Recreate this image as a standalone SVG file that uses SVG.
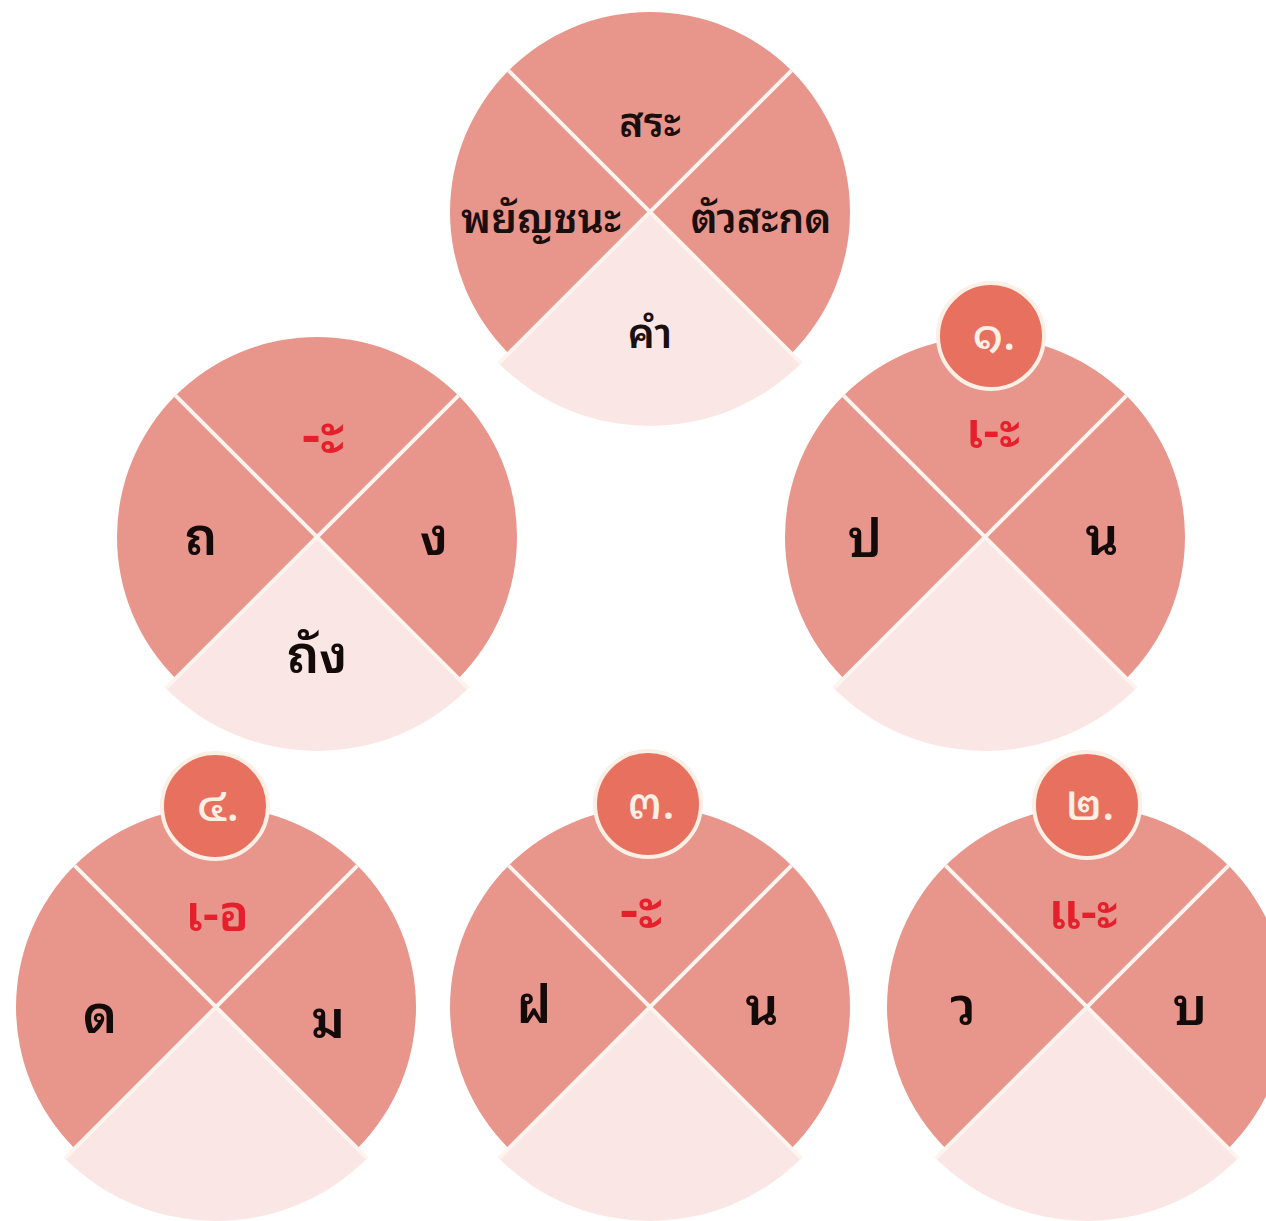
<svg xmlns="http://www.w3.org/2000/svg" xmlns:xlink="http://www.w3.org/1999/xlink" width="1266" height="1221" viewBox="0 0 1266 1221">
<style>
.q{fill:#E8968B}
.b{fill:#FAE7E5}
.sep{stroke:#FDF3EF;stroke-width:4;fill:none}
.badge{fill:#E8705E;stroke:#FBEFE6;stroke-width:4}
text{font-family:"Noto Sans Thai Looped","Noto Serif Thai","Loma","Garuda","Tlwg Typo","Noto Sans Thai","Noto Sans","DejaVu Sans",sans-serif;text-anchor:middle;font-weight:600}
.t{fill:#1A0E0E;font-size:41px}
.L{fill:#140A0A;font-size:52px}
.r{fill:#E5202C;font-size:50px}
.r2{fill:#E5202C;font-size:58px}
.n{fill:#FBEFE6;font-size:46px;font-weight:500}
</style>
<defs>
<g id="wheel">
<path class="q" d="M0,0 L-141.42,-141.42 A200,200 0 0,1 141.42,-141.42 Z"/>
<path class="q" d="M0,0 L141.42,-141.42 A200,200 0 0,1 141.42,141.42 Z"/>
<path class="q" d="M0,0 L-141.42,141.42 A200,200 0 0,1 -141.42,-141.42 Z"/>
<path class="b" d="M0,0 L151.3,151.3 A214,214 0 0,1 -151.3,151.3 Z"/>
<path class="sep" d="M-151.3,151.3 L141.42,-141.42 M151.3,151.3 L-141.42,-141.42"/>
</g>
</defs>
<rect width="1266" height="1221" fill="#FFFFFF"/>

<g id="node-top">
<use xlink:href="#wheel" x="650" y="212"/>
<text class="t" x="650" y="137">สระ</text>
<text class="t" x="541" y="233">พยัญชนะ</text>
<text class="t" x="761" y="233">ตัวสะกด</text>
<text class="t" x="650" y="348">คำ</text>
</g>

<g id="node-example">
<use xlink:href="#wheel" x="317" y="537"/>
<text class="r2" x="323" y="454">-ะ</text>
<text class="L" x="201" y="555">ถ</text>
<text class="L" x="434" y="555">ง</text>
<text class="L" x="317" y="673">ถัง</text>
</g>

<g id="node-1">
<use xlink:href="#wheel" x="985" y="537"/>
<circle class="badge" cx="991" cy="336" r="53"/>
<text class="n" x="994" y="350">๑.</text>
<text class="r" x="993" y="448">เ-ะ</text>
<text class="L" x="865" y="557">ป</text>
<text class="L" x="1102" y="555">น</text>
</g>

<g id="node-4">
<use xlink:href="#wheel" x="216" y="1007"/>
<circle class="badge" cx="215" cy="806" r="53"/>
<text class="n" x="218" y="821">๔.</text>
<text class="r" x="217" y="931">เ-อ</text>
<text class="L" x="100" y="1033">ด</text>
<text class="L" x="328" y="1038">ม</text>
</g>

<g id="node-3">
<use xlink:href="#wheel" x="650" y="1007"/>
<circle class="badge" cx="648" cy="804" r="53"/>
<text class="n" x="651" y="819">๓.</text>
<text class="r2" x="641" y="929">-ะ</text>
<text class="L" x="534" y="1023">ฝ</text>
<text class="L" x="762" y="1025">น</text>
</g>

<g id="node-2">
<use xlink:href="#wheel" x="1087" y="1007"/>
<circle class="badge" cx="1087" cy="805" r="53"/>
<text class="n" x="1090" y="820">๒.</text>
<text class="r" x="1083" y="929">แ-ะ</text>
<text class="L" x="963" y="1025">ว</text>
<text class="L" x="1190" y="1025">บ</text>
</g>

<g id="connectors"></g>
</svg>
